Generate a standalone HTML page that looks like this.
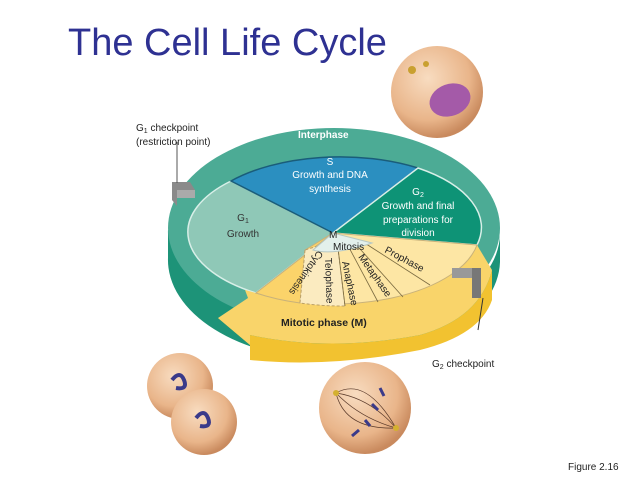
<!DOCTYPE html>
<html><head><style>
html,body{margin:0;padding:0;background:#fff;}
body{width:638px;height:479px;overflow:hidden;position:relative;font-family:"Liberation Sans",sans-serif;}
</style></head><body>
<svg width="638" height="479" viewBox="0 0 638 479" xmlns="http://www.w3.org/2000/svg" font-family="Liberation Sans, sans-serif">
<defs>
<radialGradient id="cell" cx="40%" cy="35%" r="65%"><stop offset="0" stop-color="#f8dcc0"/><stop offset="0.7" stop-color="#e9b58a"/><stop offset="1" stop-color="#c98a5e"/></radialGradient>
</defs>
<text x="68" y="55" font-size="38" fill="#2e3192">The Cell Life Cycle</text>
<circle cx="437" cy="92" r="46" fill="url(#cell)"/>
<ellipse cx="450" cy="100" rx="21" ry="16" fill="#a45aa8" transform="rotate(-20 450 100)"/>
<circle cx="412" cy="70" r="4" fill="#c9a030"/><circle cx="426" cy="64" r="3" fill="#c9a030"/>
<!-- green ring side -->
<path d="M168,230 A166,100 0 0 0 500,235 L500,262 A166,100 0 0 1 168,258 Z" fill="#1d9378"/>
<path d="M168,230 L168,258 Q180,320 255,340 L255,300 Z" fill="#1d9378"/>
<ellipse cx="334" cy="228" rx="166" ry="100" fill="#4cab95"/>
<!-- inner pie -->
<g stroke="#d8efe8" stroke-width="1.5">
<path d="M333,233 L231,181 A146,72 0 0 0 256,293 Z" fill="#8fc8b7"/>
<path d="M333,233 L231,181 A146,72 0 0 1 418,168 Z" fill="#2b8fc0" stroke="#1a5d7a"/>
<path d="M333,233 L418,168 A146,72 0 0 1 477,245 Z" fill="#0e9376"/>
</g>
<!-- yellow band -->
<path d="M218,318 L250,345 L250,360 Q330,368 420,350 Q480,335 492,300 L492,270 Q480,318 420,335 Q330,352 250,335 Z" fill="#f2c230"/>
<path d="M477,245 A146,72 0 0 1 256,293 L245,290 L248,298 L218,318 L250,345 L250,335 Q330,352 420,335 Q480,318 492,270 Z" fill="#f9d46a"/>
<!-- mitosis wedge -->
<path d="M333,233 L477,245 A146,72 0 0 1 256,293 Z" fill="#fde6a4" stroke="#c9b27a" stroke-width="1"/>
<path d="M333,233 L256,293 A146,72 0 0 0 300,303 L305,250 Z" fill="#fbd36a" stroke="#c9b27a"/>
<path d="M305,250 L300,303 A146,72 0 0 0 345,306 L337,240 Z" fill="#fbebc0" stroke="#bba067" stroke-dasharray="3,2"/>
<g stroke="#7a6a40" stroke-width="0.8">
<line x1="337" y1="240" x2="345" y2="306"/><line x1="345" y1="240" x2="378" y2="302"/><line x1="352" y1="240" x2="403" y2="297"/><line x1="360" y1="240" x2="430" y2="285"/>
</g>
<path d="M333,233 L313,250 Q333,256 372,243 Z" fill="#e3f0ec" stroke="#b8c9c4"/>
<text x="329" y="238" font-size="10" fill="#222">M</text>
<text x="333" y="250" font-size="10" fill="#222">Mitosis</text>
<!-- checkpoints -->
<path d="M172,182 L190,182 L195,190 L177,190 Z M172,182 L172,200 L177,206 L177,190 Z" fill="#8a8a8a"/>
<rect x="177" y="190" width="18" height="8" fill="#aaa"/>
<line x1="177" y1="142" x2="177" y2="183" stroke="#555"/>
<rect x="452" y="268" width="20" height="10" fill="#999"/>
<rect x="472" y="268" width="9" height="30" fill="#777"/>
<line x1="483" y1="298" x2="478" y2="330" stroke="#333"/>
<!-- labels -->
<text x="136" y="131" font-size="10" fill="#222">G<tspan font-size="7" dy="2">1</tspan><tspan dy="-2"> checkpoint</tspan></text>
<text x="136" y="145" font-size="10" fill="#222">(restriction point)</text>
<text x="298" y="138" font-size="10" font-weight="bold" fill="#ffffff">Interphase</text>
<g font-size="10" fill="#fff" text-anchor="middle">
<text x="330" y="165">S</text><text x="330" y="178">Growth and DNA</text><text x="330" y="192">synthesis</text>
<text x="418" y="195">G<tspan font-size="7" dy="2">2</tspan></text>
<text x="418" y="209">Growth and final</text><text x="418" y="223">preparations for</text><text x="418" y="236">division</text>
</g>
<g font-size="10" fill="#333" text-anchor="middle">
<text x="243" y="221">G<tspan font-size="7" dy="2">1</tspan></text><text x="243" y="237">Growth</text>
</g>
<g font-size="10" fill="#222">
<text transform="translate(318,250) rotate(125)">Cytokinesis</text>
<text transform="translate(325,258) rotate(88)">Telophase</text>
<text transform="translate(342,262) rotate(78)">Anaphase</text>
<text transform="translate(358,257) rotate(55)">Metaphase</text>
<text transform="translate(384,252) rotate(28)">Prophase</text>
</g>
<text x="281" y="326" font-size="10.5" font-weight="bold" fill="#222">Mitotic phase (M)</text>
<text x="432" y="367" font-size="10" fill="#222">G<tspan font-size="7" dy="2">2</tspan><tspan dy="-2"> checkpoint</tspan></text>
<!-- bottom cells -->
<circle cx="180" cy="386" r="33" fill="url(#cell)"/>
<circle cx="204" cy="422" r="33" fill="url(#cell)"/>
<path d="M172,380 q8,-10 12,0 q4,10 -8,8" stroke="#3a3a8a" stroke-width="4" fill="none"/>
<path d="M196,418 q8,-10 12,0 q4,10 -8,8" stroke="#3a3a8a" stroke-width="4" fill="none"/>
<circle cx="365" cy="408" r="46" fill="url(#cell)"/>
<g stroke="#5a3a2a" stroke-width="0.7" fill="none">
<path d="M336,393 Q366,376 396,428"/><path d="M336,393 Q370,398 396,428"/><path d="M336,393 Q360,418 396,428"/><path d="M336,393 Q345,430 396,428"/>
</g>
<g stroke="#3a3a8a" stroke-width="3"><line x1="380" y1="388" x2="384" y2="396"/><line x1="372" y1="404" x2="378" y2="410"/><line x1="365" y1="420" x2="370" y2="426"/><line x1="359" y1="430" x2="352" y2="436"/></g>
<circle cx="336" cy="393" r="3" fill="#d4b030"/><circle cx="396" cy="428" r="3" fill="#d4b030"/>
<text x="568" y="470" font-size="10" fill="#222">Figure 2.16</text>
</svg>
</body></html>
